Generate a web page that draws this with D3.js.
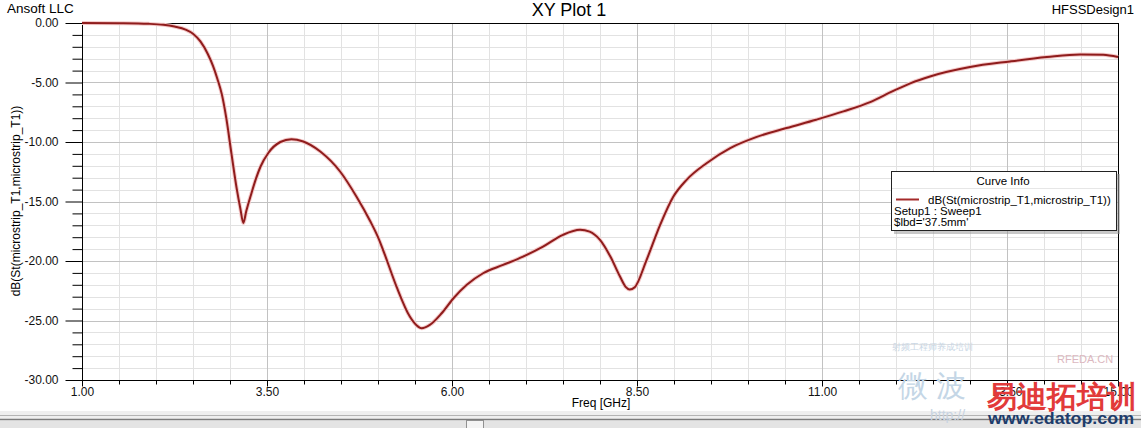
<!DOCTYPE html>
<html><head><meta charset="utf-8">
<script src="https://cdn.jsdelivr.net/npm/d3@7"></script>
<style>
html,body{margin:0;padding:0;background:#fff;overflow:hidden}
text{font-family:"Liberation Sans",Arial,sans-serif}
</style></head>
<body><svg id="c" width="1141" height="428"></svg>
<script>
// ---- data ----
const freqGHz = [1.0,1.5,1.9,2.1,2.25,2.4,2.5,2.6,2.7,2.77,2.83,2.89,2.95,3.02,3.09,3.14,3.18,3.22,3.29,3.35,3.41,3.52,3.68,3.83,3.99,4.22,4.49,4.71,4.89,5.0,5.07,5.25,5.43,5.52,5.59,5.70,5.86,6.02,6.20,6.42,6.69,6.96,7.23,7.50,7.73,7.86,8.0,8.14,8.27,8.35,8.40,8.47,8.63,8.81,8.99,9.17,9.44,9.76,10.11,10.52,10.92,11.29,11.65,11.95,12.2,12.46,13.0,13.54,14.04,14.49,14.80,15.0];
const dBS11 = [0,-0.02,-0.07,-0.15,-0.3,-0.55,-0.9,-1.55,-2.6,-3.6,-4.7,-6.0,-8.0,-11.0,-13.9,-15.6,-16.8,-15.8,-14.3,-13.1,-12.1,-10.9,-10.0,-9.76,-9.96,-10.8,-12.5,-14.6,-16.6,-18.0,-19.1,-22.15,-24.67,-25.4,-25.65,-25.37,-24.39,-23.13,-22.0,-21.03,-20.33,-19.63,-18.79,-17.8,-17.38,-17.53,-18.23,-19.63,-21.31,-22.2,-22.4,-22.2,-19.9,-17.0,-14.6,-13.18,-11.78,-10.51,-9.59,-8.83,-8.13,-7.43,-6.65,-5.75,-5.05,-4.49,-3.70,-3.23,-2.86,-2.64,-2.67,-2.86];
const xTickValues = [1.0,3.5,6.0,8.5,11.0,13.5,15.0];
const yTickValues = [0,-5,-10,-15,-20,-25,-30];
const xMinorStep = 0.5, yMinorStep = 1;
const titleText = "XY Plot 1";
const companyText = "Ansoft LLC";
const designText = "HFSSDesign1";
const xLabel = "Freq [GHz]";
const yLabel = "dB(St(microstrip_T1,microstrip_T1))";
const legendTitle = "Curve Info";
const legendLines = ["dB(St(microstrip_T1,microstrip_T1))","Setup1 : Sweep1","$lbd='37.5mm'"];

const svg = d3.select("#c");
const L=82,R=1118,T=23,B=380;
const x = d3.scaleLinear().domain([1,15]).range([L,R]);
const y = d3.scaleLinear().domain([0,-30]).range([T,B]);

// grid
const xMinor = d3.range(1+xMinorStep,15,xMinorStep).filter(v=>Math.abs((v-1)/2.5-Math.round((v-1)/2.5))>1e-6);
const xMajor = [3.5,6,8.5,11,13.5];
const yMinor = d3.range(-1,-30,-yMinorStep).filter(v=>v%5!==0);
const yMajor = [-5,-10,-15,-20,-25];
const g = svg.append("g");
g.selectAll(".vx").data(xMinor).join("line").attr("x1",d=>Math.round(x(d))+.5).attr("x2",d=>Math.round(x(d))+.5).attr("y1",T).attr("y2",B).attr("stroke","#e2e2e2");
g.selectAll(".hy").data(yMinor).join("line").attr("y1",d=>Math.round(y(d))+.5).attr("y2",d=>Math.round(y(d))+.5).attr("x1",L).attr("x2",R).attr("stroke","#e2e2e2");
g.selectAll(".vX").data(xMajor).join("line").attr("x1",d=>Math.round(x(d))+.5).attr("x2",d=>Math.round(x(d))+.5).attr("y1",T).attr("y2",B).attr("stroke","#c2c2c2");
g.selectAll(".hY").data(yMajor).join("line").attr("y1",d=>Math.round(y(d))+.5).attr("y2",d=>Math.round(y(d))+.5).attr("x1",L).attr("x2",R).attr("stroke","#c2c2c2");

// frame top/right
svg.append("line").attr("x1",L).attr("x2",R+.5).attr("y1",T+.5).attr("y2",T+.5).attr("stroke","#000");
svg.append("line").attr("x1",R+.5).attr("x2",R+.5).attr("y1",T).attr("y2",B).attr("stroke","#000");

// axes
const fmt = d=>d.toFixed(2);
const yAx = svg.append("g").attr("transform",`translate(${L+.5},0)`)
  .call(d3.axisLeft(y).tickValues(yTickValues).tickSize(17).tickPadding(7).tickFormat(fmt));
const yMin = svg.append("g").attr("transform",`translate(${L+.5},0)`)
  .call(d3.axisLeft(y).tickValues(yMinor).tickSize(10).tickFormat(""));
yMin.select(".domain").remove();
const xAx = svg.append("g").attr("transform",`translate(0,${B+.5})`)
  .call(d3.axisBottom(x).tickValues(xTickValues).tickSize(6).tickPadding(1).tickFormat(fmt));
const xMin = svg.append("g").attr("transform",`translate(0,${B+.5})`)
  .call(d3.axisBottom(x).tickValues(xMinor).tickSize(4).tickFormat(""));
xMin.select(".domain").remove();
svg.selectAll(".tick line").attr("stroke","#000");
svg.selectAll(".domain").attr("stroke","#000");
svg.selectAll(".tick text").attr("font-size",12).attr("fill","#111").attr("font-family","Liberation Sans, Arial, sans-serif");
xAx.select(".domain").attr("d",`M${L},0H${R+.5}`);
yAx.select(".domain").attr("d",`M0,${T}V${B+.5}`);

// curve
const pts = freqGHz.map((f,i)=>[f,dBS11[i]]);
const line = d3.line().x(d=>x(d[0])).y(d=>y(d[1])).curve(d3.curveMonotoneX);
svg.append("path").attr("d",line(pts)).attr("fill","none").attr("stroke","#f4caca").attr("stroke-width",4);
svg.append("path").attr("d",line(pts)).attr("fill","none").attr("stroke","#8f1c1c").attr("stroke-width",2);

// titles
svg.append("text").attr("x",7).attr("y",13).attr("font-size",13.5).text(companyText);
svg.append("text").attr("x",569).attr("y",16).attr("font-size",18).attr("text-anchor","middle").text(titleText);
svg.append("text").attr("x",1134).attr("y",14).attr("font-size",13).attr("text-anchor","end").text(designText);
svg.append("text").attr("x",601).attr("y",407).attr("font-size",12).attr("text-anchor","middle").text(xLabel);
svg.append("text").attr("transform","translate(20,201) rotate(-90)").attr("font-size",12).attr("text-anchor","middle").text(yLabel);

// legend
const lg = svg.append("g");
lg.append("rect").attr("x",894).attr("y",174).attr("width",226).attr("height",60).attr("fill","#9a9a9a").attr("opacity",0.55);
lg.append("rect").attr("x",891.5).attr("y",171.5).attr("width",225).attr("height",59).attr("fill","#fff").attr("stroke","#222");
lg.append("line").attr("x1",892).attr("x2",1116).attr("y1",188.5).attr("y2",188.5).attr("stroke","#e6e6e6");
lg.append("text").attr("x",1003).attr("y",185).attr("font-size",11.5).attr("text-anchor","middle").text(legendTitle);
lg.append("line").attr("x1",896).attr("x2",919).attr("y1",199.5).attr("y2",199.5).attr("stroke","#a52a2a").attr("stroke-width",2);
lg.append("text").attr("x",928).attr("y",203.5).attr("font-size",11.5).text(legendLines[0]);
lg.append("text").attr("x",894).attr("y",215).attr("font-size",11.5).text(legendLines[1]);
lg.append("text").attr("x",894).attr("y",226).attr("font-size",11.5).text(legendLines[2]);

// bottom scrollbar strip
const sb = svg.append("g");
sb.append("rect").attr("x",0).attr("y",411).attr("width",1141).attr("height",17).attr("fill","#efefef");
sb.append("line").attr("x1",0).attr("x2",1141).attr("y1",415.5).attr("y2",415.5).attr("stroke","#b4b4b4");
sb.append("line").attr("x1",0).attr("x2",1141).attr("y1",419.5).attr("y2",419.5).attr("stroke","#7c7c7c").attr("stroke-width",1.5);
sb.append("rect").attr("x",0).attr("y",421).attr("width",1141).attr("height",7).attr("fill","#e4e4e4");
sb.append("rect").attr("x",466.5).attr("y",420.5).attr("width",17).attr("height",8).attr("fill","#f4f4f4").attr("stroke","#909090");

// watermark
const wm = svg.append("g");
wm.append("text").attr("x",892).attr("y",350).attr("font-size",9).attr("fill","#c9d6e4").text("射频工程师养成培训");
wm.append("text").attr("x",898).attr("y",396).attr("font-size",30).attr("fill","#c4d6e6").attr("font-family","Noto Sans CJK SC").text("微 波");
wm.append("text").attr("x",930).attr("y",420).attr("font-size",14).attr("fill","#c8d4e2").text("http://");
wm.append("text").attr("x",1057).attr("y",363).attr("font-size",11).attr("fill","#dcb8c0").text("RFEDA.CN");
wm.append("text").attr("x",987).attr("y",407).attr("font-size",30).attr("font-weight",900).attr("fill","#e23a3a").attr("font-family","Noto Sans CJK SC").attr("textLength",150).attr("lengthAdjust","spacingAndGlyphs").text("易迪拓培训");
wm.append("text").attr("x",988).attr("y",424).attr("font-size",16).attr("font-weight","bold").attr("fill","#1d3c6b").attr("textLength",146).attr("lengthAdjust","spacingAndGlyphs").text("www.edatop.com");
</script></body></html>
